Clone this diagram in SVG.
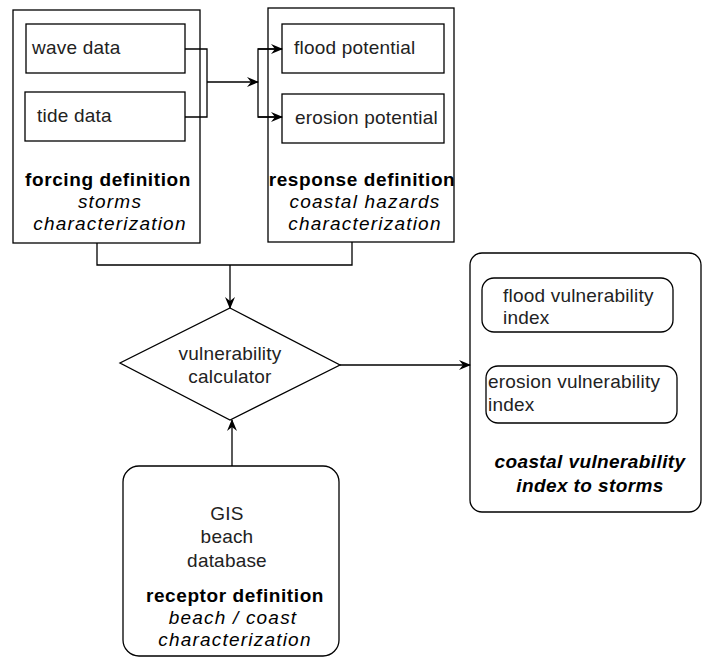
<svg xmlns="http://www.w3.org/2000/svg" width="703" height="659" viewBox="0 0 703 659">
<style>
.box{fill:#fff;stroke:#000;stroke-width:1.3}
.ln{fill:none;stroke:#000;stroke-width:1.3}
text{font-family:"Liberation Sans",Arial,sans-serif;font-size:19px;fill:#222;letter-spacing:0.2px}
.b{font-weight:bold;letter-spacing:0.6px;fill:#000}
.i{font-style:italic;letter-spacing:1.2px;fill:#000}
.m{text-anchor:middle}
</style>
<defs>
<marker id="ah" viewBox="0 0 12 10" refX="11" refY="5" markerWidth="12" markerHeight="10" markerUnits="userSpaceOnUse" orient="auto">
<path d="M0,0 L12,5 L0,10 L4,5 z" fill="#000"/>
</marker>
</defs>
<g id="forcing">
<rect class="box" x="13" y="10" width="187" height="233"/>
<text class="b m" x="108" y="186">forcing definition</text>
<text class="i m" x="110" y="208">storms</text>
<text class="i m" x="110" y="230">characterization</text>
</g>
<g id="wave">
<rect class="box" x="26" y="24" width="159" height="49"/>
<text x="32" y="54">wave data</text>
</g>
<g id="tide">
<rect class="box" x="25" y="92" width="160" height="49"/>
<text x="37" y="122">tide data</text>
</g>
<g id="response">
<rect class="box" x="268" y="8" width="186" height="234"/>
<text class="b m" x="362" y="186">response definition</text>
<text class="i m" x="365" y="208">coastal hazards</text>
<text class="i m" x="365" y="230">characterization</text>
</g>
<g id="flood">
<rect class="box" x="282" y="24" width="162" height="49"/>
<text x="294" y="54">flood potential</text>
</g>
<g id="erosion">
<rect class="box" x="282" y="94" width="162" height="49"/>
<text x="295" y="124">erosion potential</text>
</g>
<g id="calculator">
<polygon class="box" points="230,308 340,365 230,420 120,363"/>
<text class="m" x="230" y="360">vulnerability</text>
<text class="m" x="230" y="383">calculator</text>
</g>
<g id="index">
<rect class="box" x="470" y="253" width="231" height="259" rx="12"/>
<text class="i b m" x="590" y="468" style="letter-spacing:0.4px">coastal vulnerability</text>
<text class="i b m" x="590" y="492" style="letter-spacing:0.4px">index to storms</text>
</g>
<g id="floodvi">
<rect class="box" x="482" y="278" width="191" height="54" rx="12"/>
<text x="503" y="302">flood vulnerability</text>
<text x="503" y="324">index</text>
</g>
<g id="erosionvi">
<rect class="box" x="486" y="366" width="191" height="57" rx="12"/>
<text x="488" y="388">erosion vulnerability</text>
<text x="488" y="411">index</text>
</g>
<g id="receptor">
<rect class="box" x="123" y="466" width="216" height="190" rx="16"/>
<text class="m" x="227" y="520">GIS</text>
<text class="m" x="227" y="543">beach</text>
<text class="m" x="227" y="567">database</text>
<text class="b m" x="235" y="602">receptor definition</text>
<text class="i m" x="233" y="624">beach / coast</text>
<text class="i m" x="235" y="646">characterization</text>
</g>
<g id="connectors">
<path class="ln" d="M185,49 H207 V117 H185"/>
<path class="ln" d="M207,82 H258" marker-end="url(#ah)"/>
<path class="ln" d="M282,49 H258 V117 H282"/>
<path class="ln" d="M258,49 H282" marker-end="url(#ah)"/>
<path class="ln" d="M258,117 H282" marker-end="url(#ah)"/>
<path class="ln" d="M97,243 V265 H352 V242"/>
<path class="ln" d="M230,265 V308" marker-end="url(#ah)"/>
<path class="ln" d="M340,365 H470" marker-end="url(#ah)"/>
<path class="ln" d="M232,466 V420" marker-end="url(#ah)"/>
</g>
</svg>
